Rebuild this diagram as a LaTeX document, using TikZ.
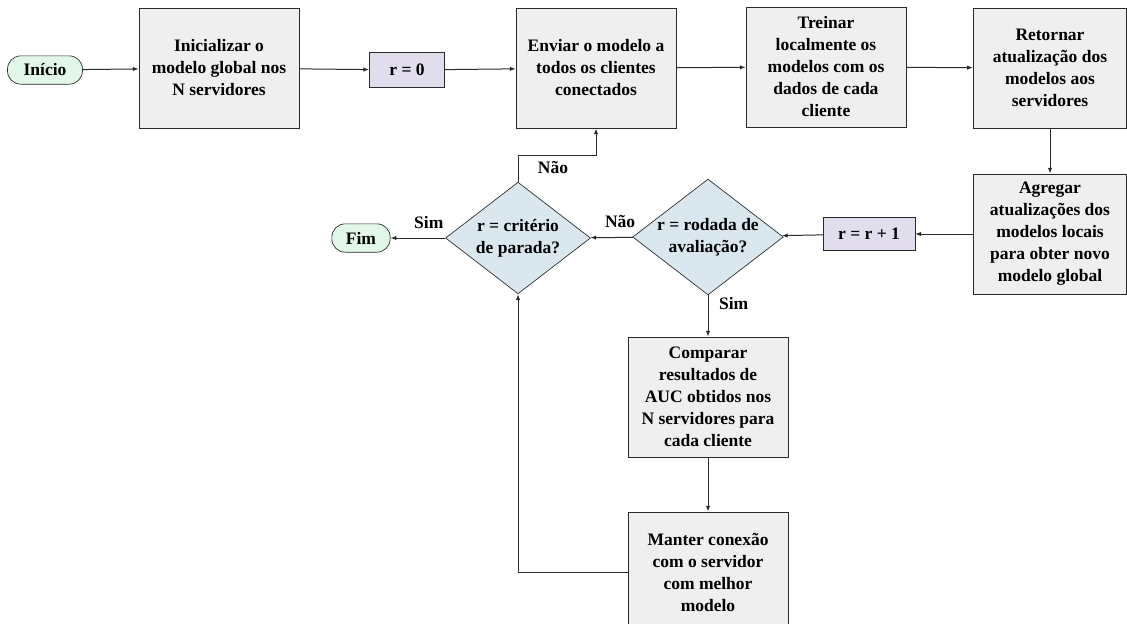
\documentclass[tikz,border=0pt]{standalone}
\usepackage{fontspec}
\setmainfont{Liberation Serif}
\usetikzlibrary{arrows.meta,shapes.geometric}
\definecolor{boxgray}{HTML}{EFEFEF}
\definecolor{countpurple}{HTML}{E1DDEC}
\definecolor{decblue}{HTML}{DAE7EF}
\definecolor{termgreen}{HTML}{E3F7E8}
\definecolor{linecol}{HTML}{2A2A2A}
\begin{document}
\begin{tikzpicture}[x=0.6pt,y=-0.6pt,
    every node/.style={font=\bfseries\fontsize{10.5}{13.2}\selectfont,align=center,text=black},
    procbox/.style={draw=linecol,fill=boxgray,minimum width=96pt,minimum height=72pt,inner sep=2pt},
    countbox/.style={draw=linecol,fill=countpurple,minimum height=21pt,inner sep=2pt},
    decision/.style={diamond,draw=linecol,fill=decblue,aspect=1.3,inner sep=0pt,
      minimum width=87pt,minimum height=67pt},
    terminal/.style={draw=linecol,fill=termgreen,rounded corners=8pt,minimum height=17pt,inner sep=2pt},
    flow/.style={draw=linecol,line width=0.6pt,-{Latex[length=3.5pt,width=2.6pt]}}]
  \useasboundingbox (0,0) rectangle (1127,623);

  % Top row
  \node[terminal,minimum width=45pt] (inicio) at (45,70) {Início};
  \node[procbox] (init) at (219,68) {Inicializar o\\modelo global nos\\N servidores};
  \node[countbox,minimum width=45pt] (rzero) at (407,70) {r = 0};
  \node[procbox] (enviar) at (596,68) {Enviar o modelo a\\todos os clientes\\conectados};
  \node[procbox] (treinar) at (826,67) {Treinar\\localmente os\\modelos com os\\dados de cada\\cliente};
  \node[procbox,minimum width=92pt] (retornar) at (1050,68) {Retornar\\atualização dos\\modelos aos\\servidores};

  % Right column and decisions
  \node[procbox,minimum width=92pt] (agregar) at (1050,234) {Agregar\\atualizações dos\\modelos locais\\para obter novo\\modelo global};
  \node[countbox,minimum width=55pt,minimum height=20pt] (rinc) at (869,234) {r = r + 1};
  \node[decision] (aval) at (708,237) {r = rodada de\\avaliação?};
  \node[decision] (crit) at (518,238) {r = critério\\de parada?};
  \node[terminal,minimum width=35pt] (fim) at (361,238) {Fim};

  % Evaluation branch
  \node[procbox] (comparar) at (708,397) {Comparar\\resultados de\\AUC obtidos nos\\N servidores para\\cada cliente};
  \node[procbox] (manter) at (708,572) {Manter conexão\\com o servidor\\com melhor\\modelo};

  \coordinate (loop) at (518,155);
  \node (naoloop) at (553,167) {Não};

  % Connectors
  \draw[flow] (inicio) -- (init);
  \draw[flow] (init) -- (rzero);
  \draw[flow] (rzero) -- (enviar);
  \draw[flow] (enviar) -- (treinar);
  \draw[flow] (treinar) -- (retornar);
  \draw[flow] (retornar) -- (agregar);
  \draw[flow] (agregar) -- (rinc);
  \draw[flow] (rinc) -- (aval);
  \draw[flow] (aval) -- node[above=2pt,pos=0.3]{Não} (crit);
  \draw[flow] (crit) -- node[above=2pt,pos=0.3]{Sim} (fim);
  \draw[flow] (aval) -- node[right=3pt,pos=0.2]{Sim} (comparar);
  \draw[flow] (comparar) -- (manter);
  \draw[flow] (crit.north) -- (loop) -| (enviar.south);
  \draw[flow] (manter.west) -| (crit.south);
\end{tikzpicture}
\end{document}
